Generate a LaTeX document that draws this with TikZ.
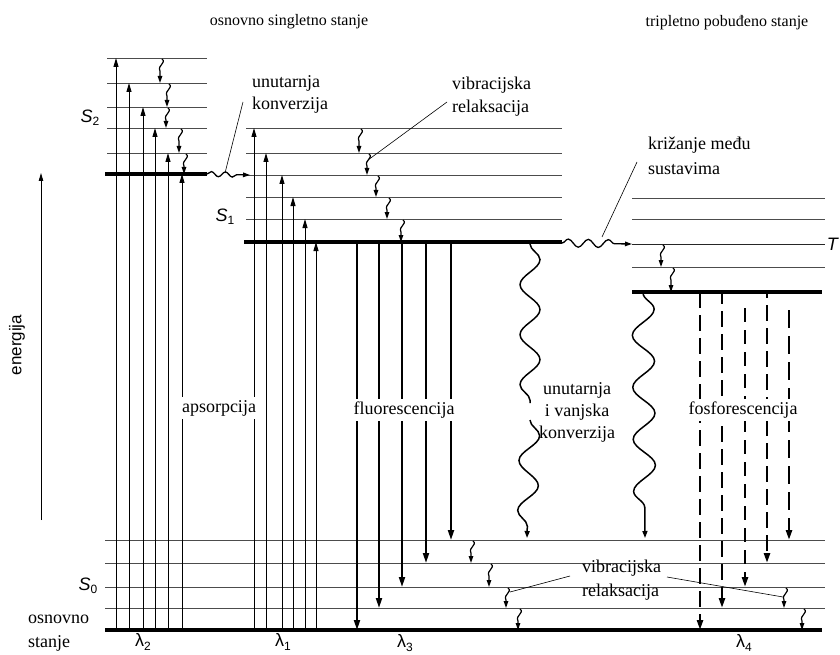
\documentclass[tikz,border=0pt]{standalone}
\usepackage{fontspec}
\setmainfont{Liberation Serif}
\setsansfont{Liberation Sans}
\usetikzlibrary{arrows.meta,decorations.pathmorphing}
\newcommand{\vibr}[3]{\draw[vibarrow] (#1+1,#2+1) .. controls (#1+6,#2+5) and (#1-4,#2+7) .. (#1-1,#2+13) -- (#1-1,#3);}
\begin{document}
\begin{tikzpicture}[x=1pt,y=-1pt,
  thinlev/.style={line width=0.7pt, black!70},
  thicklev/.style={line width=3.5pt},
  absarrow/.style={line width=0.9pt, -{Triangle[length=9pt,width=5pt]}},
  fluarrow/.style={line width=2pt, -{Triangle[length=10pt,width=6pt]}},
  phoarrow/.style={line width=2.4pt, dash pattern=on 16pt off 7pt, -{Triangle[length=10pt,width=6pt]}},
  vibarrow/.style={line width=1.2pt, -{Triangle[length=7pt,width=4.5pt]}},
  wavy/.style={line width=1.3pt, decorate},
  leader/.style={line width=0.6pt},
  lbl/.style={font=\fontsize{18}{22}\selectfont, inner sep=0pt},
  lblbg/.style={font=\fontsize{18}{22}\selectfont, fill=white, inner sep=3pt},
  title/.style={font=\fontsize{16}{19}\selectfont, inner sep=0pt},
  sym/.style={font=\sffamily\fontsize{18}{22}\selectfont, inner sep=0pt}
]
\useasboundingbox (0,0) rectangle (840,655);
\fill[white] (0,0) rectangle (840,655);

% titles
\node[title] (t1) at (289,22) {osnovno singletno stanje};
\node[title] (t2) at (727,23) {tripletno pobuđeno stanje};

% energy axis
\node[font=\sffamily\fontsize{17}{20}\selectfont, rotate=90, inner sep=0pt] (en) at (17,345) {energija};
\draw[line width=0.8pt, -{Triangle[length=8pt,width=4.5pt]}] (41,520) -- (41,173);

% levels S2
\foreach \y in {58,83,107,128,153} \draw[thinlev] (107,\y) -- (207,\y);
\draw[thicklev] (105,174) -- (207,174);
% levels S1
\foreach \y in {128,153,175,197,219} \draw[thinlev] (246,\y) -- (562,\y);
\draw[thicklev] (244,242) -- (562,242);
% levels T
\foreach \y in {198,219,267} \draw[thinlev] (632,\y) -- (825,\y);
\draw[line width=1pt, black!85] (632,244) -- (825,244);
\draw[thicklev] (632,292) -- (822,292);
% levels S0
\foreach \y in {540,563,587,608} \draw[thinlev] (105,\y) -- (825,\y);
\draw[thicklev] (105,630) -- (822,630);

% state labels
\node[sym] (s2) at (90,118) {\textit{S}\raisebox{-0.35ex}{\fontsize{12}{14}\selectfont 2}};
\node[sym] (s1) at (225,217) {\textit{S}\raisebox{-0.35ex}{\fontsize{12}{14}\selectfont 1}};
\node[sym] (s0) at (88,586) {\textit{S}\raisebox{-0.35ex}{\fontsize{12}{14}\selectfont 0}};
\node[sym] (tl) at (833,244) {\textit{T}};
\node[lbl, anchor=base west] (os1) at (28,623) {osnovno};
\node[lbl, anchor=base west] (os2) at (28,647) {stanje};

% wavelengths
\node[sym] (l2) at (143,642) {λ\raisebox{-0.35ex}{\fontsize{12}{14}\selectfont 2}};
\node[sym] (l1) at (283,642) {λ\raisebox{-0.35ex}{\fontsize{12}{14}\selectfont 1}};
\node[sym] (l3) at (405,643) {λ\raisebox{-0.35ex}{\fontsize{12}{14}\selectfont 3}};
\node[sym] (l4) at (744,643) {λ\raisebox{-0.35ex}{\fontsize{12}{14}\selectfont 4}};

% absorption arrows
\foreach \x/\y in {116/58,129/83,143/107,155/128,168/153,182/174,254/128,266/153,282/175,293/197,305/219,316/242}
  \draw[absarrow] (\x,630) -- (\x,\y);
\node[lblbg] (aps) at (219,408) {apsorpcija};

% fluorescence arrows
\foreach \x/\y in {357/630,379/608,402/587,426/563,451/540}
  \draw[fluarrow] (\x,242) -- (\x,\y);
\node[lblbg] (flu) at (404,410) {fluorescencija};

% phosphorescence arrows
\draw[phoarrow] (700,292) -- (700,630);
\draw[phoarrow, dash phase=4pt] (722,292) -- (722,608);
\draw[phoarrow, dash pattern=on 14pt off 8pt] (745,308) -- (745,587);
\draw[phoarrow, dash phase=10pt] (767,292) -- (767,563);
\draw[phoarrow, dash pattern=on 18pt off 8pt] (789,310) -- (789,540);
\node[lblbg] (pho) at (743,410) {fosforescencija};

% vibrational relaxation
\vibr{161}{58}{83}
\vibr{168}{83}{107}
\vibr{167}{107}{128}
\vibr{180}{128}{153}
\vibr{185}{153}{174}
\vibr{360}{128}{153}
\vibr{368}{153}{175}
\vibr{377}{175}{197}
\vibr{388}{197}{219}
\vibr{402}{219}{242}
\vibr{662}{244}{267}
\vibr{672}{267}{292}
\vibr{472}{540}{563}
\vibr{490}{563}{587}
\vibr{507}{587}{608}
\vibr{519}{608}{630}
\vibr{785}{587}{608}
\vibr{803}{608}{630}

% internal conversion S2 -> S1
\draw[wavy, decoration={snake, amplitude=2.5pt, segment length=14pt, post length=8pt},
  -{Triangle[length=7pt,width=4.5pt]}] (207,174) -- (250,175);
% intersystem crossing
\draw[wavy, decoration={snake, amplitude=4pt, segment length=20pt, post length=10pt},
  -{Triangle[length=7pt,width=4.5pt]}] (562,243) -- (632,244);
% internal and external conversion S1 -> S0
\draw[wavy, line width=1.5pt, decoration={snake, amplitude=10pt, segment length=50pt}] (530,244) -- (530,403);
\draw[wavy, line width=1.5pt, decoration={snake, amplitude=10pt, segment length=50pt, post length=10pt},
  -{Triangle[length=7pt,width=5pt]}] (530,420) -- (527,538);
% T -> S0
\draw[wavy, line width=1.5pt, decoration={snake, amplitude=11pt, segment length=52pt, post length=10pt},
  -{Triangle[length=7pt,width=5pt]}] (643,293) -- (645,538);

% text labels
\node[lbl, anchor=base west] (ic1) at (252,88) {unutarnja};
\node[lbl, anchor=base west] (ic2) at (252,110) {konverzija};
\node[lbl, anchor=base west] (vr1) at (452,90) {vibracijska};
\node[lbl, anchor=base west] (vr2) at (452,113) {relaksacija};
\node[lbl, anchor=base west] (isc1) at (648,150) {križanje među};
\node[lbl, anchor=base west] (isc2) at (648,175) {sustavima};
\node[lbl, anchor=base west] (bv1) at (582,572) {vibracijska};
\node[lbl, anchor=base west] (bv2) at (582,596) {relaksacija};
\node[lbl, anchor=base] (ie1) at (577,394) {unutarnja};
\node[lbl, anchor=base] (ie2) at (577,416) {i vanjska};
\node[lbl, anchor=base] (ie3) at (577,438) {konverzija};

% leader lines
\draw[leader] (243,102) -- (225,173);
\draw[leader] (447,102) -- (368,160);
\draw[leader] (637,162) -- (602,237);
\draw[leader] (570,576) -- (510,592);
\draw[leader] (667,577) -- (783,597);
\end{tikzpicture}
\end{document}
